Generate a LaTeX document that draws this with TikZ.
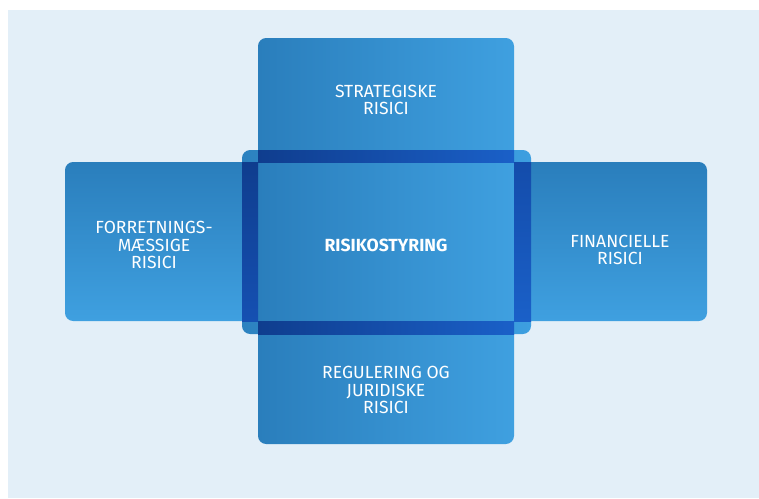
\documentclass[tikz,border=0pt]{standalone}
\usepackage{fontspec}
\setmainfont{Fira Sans}
\definecolor{panel}{HTML}{E3EFF8}
\definecolor{boxdark}{HTML}{2A7EBC}
\definecolor{boxlight}{HTML}{3FA0E0}
\definecolor{banddark}{HTML}{0F3D8E}
\definecolor{bandlight}{HTML}{1A60C8}
\definecolor{bandmid}{HTML}{1550B2}
\definecolor{coredark}{HTML}{2C82C0}
\definecolor{corelight}{HTML}{3D9FE0}
\tikzset{
  riskbox/.style={rounded corners=7pt},
  risktext/.style={text=white, align=center, inner sep=0pt,
    font=\fontsize{15}{15.2}\selectfont},
}
\begin{document}
\begin{tikzpicture}[x=0.03cm, y=-0.03cm]
    \useasboundingbox (0,0) rectangle (759,498);
    \fill[panel] (8,10) rectangle (759,498);

    % corners of the core and the two bars
    \coordinate (core-nw) at (242,150);
    \coordinate (core-se) at (531,334);
    \coordinate (in-nw) at (258,162);
    \coordinate (in-se) at (514,321);

    % core first, so only its corners stay visible
    \shade[riskbox, left color=coredark, right color=corelight] (core-nw) rectangle (core-se);

    % side bars
    \shade[riskbox, top color=boxdark, bottom color=boxlight] (65,162) rectangle (330,321);
    \shade[riskbox, top color=boxdark, bottom color=boxlight] (440,162) rectangle (707,321);

    % upright bar
    \shade[riskbox, left color=boxdark, right color=boxlight] (258,38) rectangle (514,444);

    % dark frame where the core lies over a bar
    \foreach \ya/\yb in {150/162, 321/334}
        \shade[left color=banddark, right color=bandlight] (258,\ya) rectangle (514,\yb);
    \shade[top color=banddark, bottom color=bandmid] (242,162) rectangle (258,321);
    \shade[top color=bandmid!80!banddark, bottom color=bandlight] (514,162) rectangle (531,321);

    % labels
    \node[risktext] (strat) at (386,100) {STRATEGISKE\\RISICI};
    \node[risktext] (forr) at (154,245) {FORRETNINGS-\\MÆSSIGE\\RISICI};
    \node[risktext, font=\fontsize{15}{15.2}\selectfont\bfseries] (core) at (386,245) {RISIKOSTYRING};
    \node[risktext] (fin) at (620,250) {FINANCIELLE\\RISICI};
    \node[risktext] (reg) at (386,390) {REGULERING OG\\JURIDISKE\\RISICI};
\end{tikzpicture}
\end{document}
